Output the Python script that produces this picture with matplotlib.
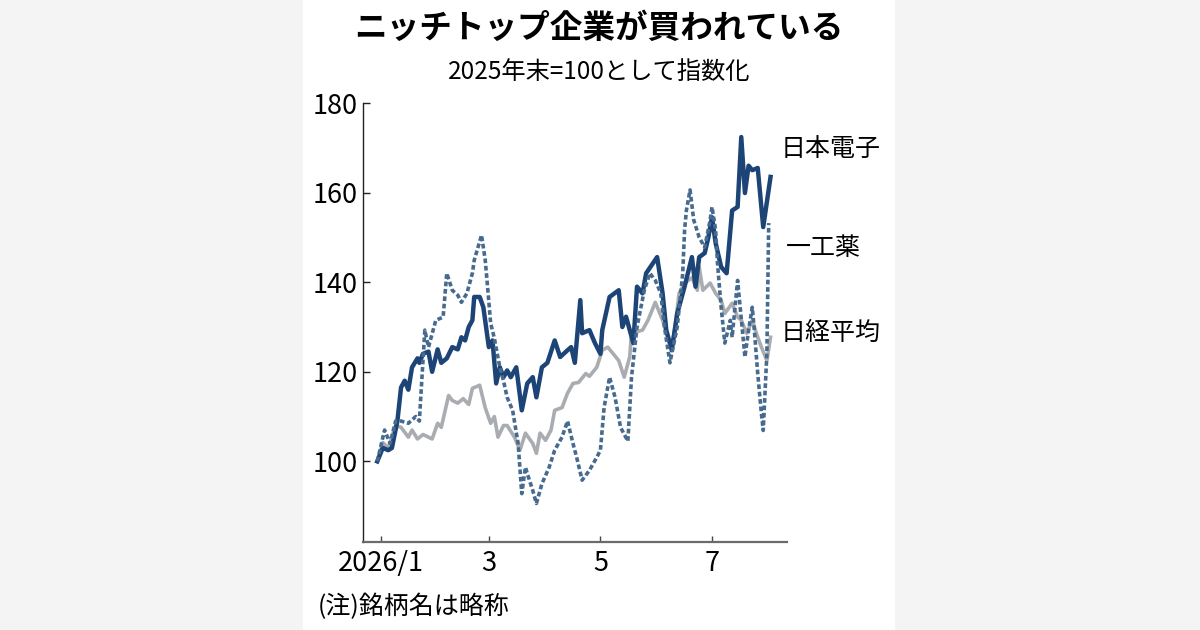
import matplotlib
matplotlib.use('Agg')
import matplotlib.pyplot as plt
from matplotlib.patches import Rectangle
import pandas as pd

plt.rcParams['font.family'] = ['Noto Sans CJK JP', 'DejaVu Sans']

# days counted from 2026-01-01, values indexed to end of 2025 = 100
jeol_days = [-2, 1, 4, 6, 9, 11, 13, 15, 17, 20,
             21, 23, 26, 28, 31, 33, 36, 39, 42, 44,
             46, 48, 50, 51, 54, 56, 59, 61, 63, 65,
             67, 69, 71, 74, 77, 80, 83, 85, 88, 91,
             95, 98, 102, 104, 106, 109, 110, 114, 117, 120,
             121, 125, 130, 132, 134, 138, 140, 143, 145, 151,
             154, 156, 159, 162, 166, 170, 172, 174, 177, 179,
             181, 183, 186, 189, 192, 195, 197, 199, 201, 203,
             206, 209, 213]
jeol_vals = [100, 103, 102.5, 103, 109, 116.5, 118, 116, 121, 123,
             122, 124, 124.5, 120, 125, 122, 123, 125.5, 125, 127.7,
             127, 130, 131.5, 136.7, 136.7, 134.4, 125.5, 127, 117.4, 121,
             118.8, 120.3, 118.8, 121, 111.4, 117.4, 118.8, 114.3, 121, 122,
             127, 123.3, 124.8, 125.5, 122, 136, 128.6, 129.3, 126.4, 124,
             129.3, 136.7, 138.2, 130, 132.3, 126.4, 139, 137.5, 142, 145.6,
             137.5, 129.3, 124.8, 133, 139, 145.6, 139, 145.6, 146.5, 150,
             154.5, 148.7, 143.4, 142, 156, 156.8, 172.4, 159.9, 166, 165,
             165.5, 152.3, 163.5]

nikkei_days = [-2, 1, 4, 8, 11, 15, 17, 20, 23, 28,
               31, 33, 37, 39, 42, 45, 48, 50, 54, 57,
               60, 62, 64, 67, 69, 73, 76, 79, 83, 85,
               87, 90, 93, 95, 99, 102, 105, 108, 112, 114,
               118, 121, 124, 127, 130, 133, 136, 137, 143, 146,
               150, 154, 156, 159, 161, 163, 166, 170, 173, 174,
               176, 180, 183, 186, 188, 192, 195, 197, 200, 203,
               206, 208, 211, 213]
nikkei_vals = [100, 104.2, 103, 108, 107.6, 105.4, 107, 105, 106, 105,
               108.5, 107.6, 114.7, 113.6, 113, 114, 112.7, 116.3, 117, 112,
               108.5, 110, 105.4, 108, 108, 105.4, 102.5, 106.3, 104, 101.8,
               106.3, 104.7, 107, 111.4, 112, 115.2, 117.4, 117.6, 119.6, 119,
               121, 124.8, 125.5, 124, 122.5, 118.8, 123.3, 128.6, 129.3, 131.5,
               135.5, 131.5, 128.6, 125.5, 130.8, 137.5, 139.8, 141, 138.2, 143.4,
               138.2, 139.8, 137.5, 136, 133, 135.3, 132.2, 131.5, 128.6, 131.5,
               127.7, 125.5, 122.5, 127.7]

ichiko_days = [-2, 2, 5, 8, 11, 15, 19, 21, 24, 26,
               30, 34, 36, 39, 42, 44, 47, 50, 51, 55,
               57, 58, 60, 62, 65, 67, 69, 72, 75, 77,
               79, 80, 83, 85, 88, 92, 95, 99, 102, 105,
               107, 110, 114, 118, 120, 122, 125, 128, 131, 135,
               137, 140, 144, 147, 150, 153, 155, 158, 162, 165,
               166, 167, 169, 171, 174, 177, 180, 181, 183, 184,
               186, 188, 191, 192, 195, 199, 201, 203, 204, 206,
               208, 209, 211, 212]
ichiko_vals = [100, 107, 104, 109, 109, 108.5, 110, 109, 129.3, 125.5,
               131.5, 132.2, 142, 138.2, 137.1, 135.5, 137.5, 142, 144.9, 150.5,
               145, 140.4, 130.8, 127.5, 121, 118, 114.3, 111.4, 104, 92.8,
               98.7, 97.3, 93.5, 90.6, 95, 98.7, 102.5, 105.4, 109, 104,
               100.9, 95.8, 98, 100.9, 102.5, 112, 118.8, 114.3, 107.6, 104.5,
               118.8, 130, 138.2, 142, 140.4, 137.5, 130, 122, 130, 142,
               151.6, 156, 160.6, 153.9, 150, 147.8, 153.9, 156.8, 151.6, 144.2,
               134.4, 126.4, 131.5, 127.7, 140.4, 123.3, 129.3, 134.4, 130, 119.6,
               110.7, 106.9, 124.1, 153.2]

base = pd.Timestamp('2026-01-01')
tick_dates = ['2026-01-01', '2026-03-01', '2026-05-01', '2026-07-01']
tick_labels = ['2026/1', '3', '5', '7']
names = ['日本電子', '一工薬', '日経平均']


def to_dates(days):
    return [base + pd.Timedelta(days=d) for d in days]


fig = plt.figure(figsize=(12, 6.3), dpi=100)
fig.patch.set_facecolor('#f4f4f4')
fig.patches.append(Rectangle((303 / 1200, 0), 592 / 1200, 1, transform=fig.transFigure,
                             facecolor='white', edgecolor='none', zorder=-10))

ax = fig.add_axes([363 / 1200, 1 - 542 / 630, 424 / 1200, 439 / 630])
ax.set_facecolor('none')

ax.plot(to_dates(nikkei_days), nikkei_vals, color='#a9acb0', lw=2.6, zorder=2,
        solid_joinstyle='round')
ax.plot(to_dates(jeol_days), jeol_vals, color='#1c4477', lw=3.2, zorder=3,
        solid_joinstyle='round')
ax.plot(to_dates(ichiko_days), ichiko_vals, color='#476a8f', lw=2.6, zorder=4,
        linestyle=(0, (1.3, 0.75)))

ax.set_ylim(82, 180)
ax.set_xlim(base - pd.Timedelta(days=9.8), base + pd.Timedelta(days=222))
ax.set_yticks([100, 120, 140, 160, 180])
ax.set_xticks(pd.to_datetime(tick_dates))
ax.set_xticklabels(tick_labels)

num_font = ['Liberation Sans Narrow', 'Noto Sans CJK JP']
for lab in ax.get_yticklabels() + ax.get_xticklabels():
    lab.set_family(num_font)
    lab.set_fontsize(19.5)

ax.spines['top'].set_visible(False)
ax.spines['right'].set_visible(False)
ax.spines['left'].set_color('#222222')
ax.spines['left'].set_linewidth(1.0)
ax.spines['bottom'].set_color('#6b6b6b')
ax.spines['bottom'].set_linewidth(1.6)
ax.tick_params(axis='y', direction='in', length=5, width=1, color='#222222', pad=4)
ax.tick_params(axis='x', direction='in', length=4, width=1, color='#444444', pad=6)

# series labels on the right
ax.text(0.986, 0.893, names[0], transform=ax.transAxes, fontsize=18,
        va='center', ha='left', clip_on=False)
ax.text(0.998, 0.670, names[1], transform=ax.transAxes, fontsize=18,
        va='center', ha='left', clip_on=False)
ax.text(0.986, 0.476, names[2], transform=ax.transAxes, fontsize=18,
        va='center', ha='left', clip_on=False)

fig.text(0.499, 1 - 28 / 630, 'ニッチトップ企業が買われている', fontsize=23.5,
         fontweight='bold', ha='center', va='center')
fig.text(0.499, 1 - 72 / 630, '2025年末=100として指数化', fontsize=17.5,
         ha='center', va='center')
fig.text(318 / 1200, 1 - 607 / 630, '(注)銘柄名は略称', fontsize=18,
         ha='left', va='center')

fig.savefig('out.png', dpi=100, facecolor=fig.get_facecolor())
